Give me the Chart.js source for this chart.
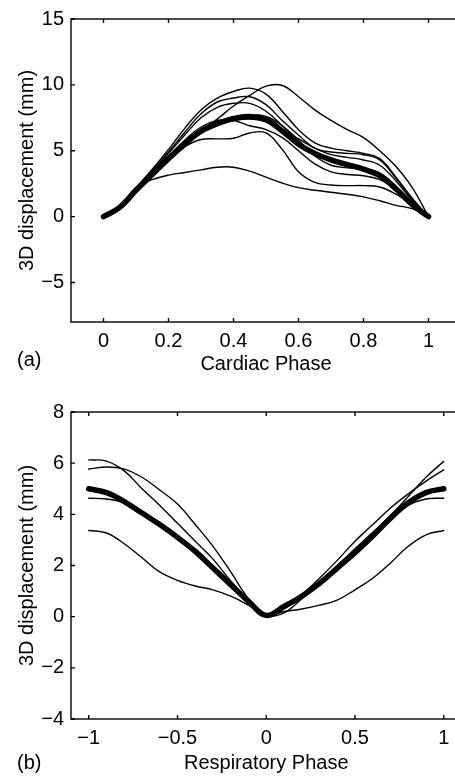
<!DOCTYPE html>
<html>
<head>
<meta charset="utf-8">
<script src="https://cdn.jsdelivr.net/npm/chart.js@4.4.1/dist/chart.umd.min.js"></script>
<style>
  html, body { margin: 0; padding: 0; background: #fff; overflow: hidden; }
  body { width: 455px; height: 777px; position: relative; }
  .panel { position: absolute; left: 0; width: 470px; }
  #panel-a { top: 0; height: 380px; }
  #panel-b { top: 380px; height: 397px; }
  .tag { position: absolute; left: 17px; font: 20px "Liberation Sans", Arial, sans-serif; line-height: 20px; color: #000; }
  #tag-a { top: 349px; }
  #tag-b { top: 752px; }
</style>
</head>
<body>
<div class="panel" id="panel-a"><canvas id="chart-a"></canvas></div>
<div class="panel" id="panel-b"><canvas id="chart-b"></canvas></div>
<div class="tag" id="tag-a">(a)</div>
<div class="tag" id="tag-b">(b)</div>
<script>
// (a) cardiac cycle
const cardiacPhase = [0, 0.05, 0.1, 0.15, 0.2, 0.25, 0.3, 0.35, 0.4, 0.45, 0.5, 0.55, 0.6, 0.65, 0.7, 0.75, 0.8, 0.85, 0.9, 0.95, 1];
const cardiacMean = [0, 0.7, 2.0, 3.2, 4.4, 5.5, 6.5, 7.05, 7.45, 7.6, 7.35, 6.5, 5.5, 4.8, 4.3, 3.95, 3.6, 3.1, 2.1, 0.9, 0];
const cardiac1 = [0, 0.7, 2.1, 3.3, 4.5, 5.5, 6.5, 7.4, 8.4, 9.2, 9.9, 9.95, 9.1, 8.1, 7.3, 6.6, 6.0, 5.0, 3.8, 2.2, 0];
const cardiac2 = [0, 0.8, 2.2, 3.6, 5.1, 6.7, 8.1, 9.0, 9.5, 9.75, 9.3, 8.0, 6.6, 5.6, 5.2, 5.0, 4.8, 4.4, 3.0, 1.4, 0];
const cardiac3 = [0, 0.8, 2.1, 3.5, 4.9, 6.4, 7.8, 8.7, 9.0, 9.1, 8.5, 7.3, 6.2, 5.2, 4.9, 4.8, 4.7, 4.3, 2.9, 1.3, 0];
const cardiac4 = [0, 0.7, 2.1, 3.4, 4.8, 6.2, 7.5, 8.3, 8.6, 8.6, 8.0, 6.9, 5.7, 4.8, 4.2, 3.9, 3.7, 3.3, 2.3, 1.0, 0];
const cardiac5 = [0, 0.7, 2.0, 3.3, 4.6, 5.8, 6.8, 7.3, 7.3, 6.9, 6.6, 6.0, 5.0, 4.0, 3.4, 3.2, 3.1, 2.8, 2.0, 0.9, 0];
const cardiac6 = [0, 0.7, 2.0, 3.2, 4.4, 5.3, 5.85, 5.9, 5.95, 6.35, 6.35, 5.1, 3.4, 2.6, 2.4, 2.35, 2.35, 2.25, 1.7, 0.9, 0];
const cardiac7 = [0, 0.8, 2.2, 2.8, 3.15, 3.35, 3.55, 3.75, 3.75, 3.45, 3.0, 2.55, 2.2, 2.0, 1.85, 1.7, 1.5, 1.2, 0.85, 0.6, 0];
const cardiac8 = [0, 0.7, 2.0, 3.2, 4.4, 5.6, 6.6, 7.1, 7.3, 7.4, 7.2, 6.6, 5.9, 5.2, 4.7, 4.5, 4.3, 3.9, 2.7, 1.2, 0];
const cardiac9 = [0, 0.7, 1.9, 3.1, 4.3, 5.4, 6.3, 6.9, 7.5, 7.7, 7.6, 6.9, 5.8, 4.6, 3.9, 3.7, 3.6, 3.3, 2.3, 1.0, 0];
const cardiacXTicks = [0, 0.2, 0.4, 0.6, 0.8, 1];
const cardiacYTicks = [-5, 0, 5, 10, 15];

// (b) respiratory cycle
const respPhase = [-1, -0.9, -0.8, -0.7, -0.6, -0.5, -0.4, -0.3, -0.2, -0.1, 0, 0.1, 0.2, 0.3, 0.4, 0.5, 0.6, 0.7, 0.8, 0.9, 1];
const respMean = [5.0, 4.85, 4.5, 4.05, 3.6, 3.1, 2.55, 1.9, 1.25, 0.6, 0.05, 0.4, 0.8, 1.3, 1.9, 2.5, 3.15, 3.85, 4.45, 4.85, 5.0];
const resp1 = [6.13, 6.08, 5.7, 5.0, 4.35, 3.65, 2.95, 2.25, 1.4, 0.65, 0.05, 0.15, 0.7, 1.3, 2.0, 2.65, 3.3, 3.95, 4.7, 5.45, 6.07];
const resp2 = [5.77, 5.85, 5.77, 5.45, 4.95, 4.4, 3.6, 2.75, 1.75, 0.7, 0.05, 0.3, 0.85, 1.5, 2.2, 2.95, 3.6, 4.25, 4.8, 5.3, 5.74];
const resp3 = [4.63, 4.6, 4.45, 4.05, 3.55, 3.05, 2.5, 1.9, 1.25, 0.6, 0.05, 0.35, 0.75, 1.25, 1.85, 2.45, 3.1, 3.8, 4.35, 4.6, 4.63];
const resp4 = [3.37, 3.27, 2.85, 2.3, 1.75, 1.42, 1.2, 1.05, 0.8, 0.45, 0.05, 0.2, 0.3, 0.45, 0.65, 1.05, 1.5, 2.1, 2.75, 3.2, 3.37];
const respXTicks = [-1, -0.5, 0, 0.5, 1];
const respYTicks = [-4, -2, 0, 2, 4, 6, 8];

const FONT = { family: '"Liberation Sans", Arial, Helvetica, sans-serif', size: 20 };

function lineSet(xs, ys, width) {
    return {
        data: xs.map((x, i) => ({ x: x, y: ys[i] })),
        borderColor: '#000',
        borderWidth: width,
        borderCapStyle: 'round',
        borderJoinStyle: 'round',
        pointRadius: 0,
        fill: false,
        tension: 0.4
    };
}

const fmt = v => String(v).replace('-', '\u2212');

// MATLAB style box with inward ticks on all four sides
const matlabBox = {
    id: 'matlabBox',
    afterDraw(chart) {
        const { ctx, chartArea: a, scales } = chart;
        const len = 4;
        ctx.save();
        ctx.strokeStyle = '#000';
        ctx.lineWidth = 1.4;
        ctx.strokeRect(a.left, a.top, a.right - a.left, a.bottom - a.top);
        ctx.beginPath();
        scales.x.ticks.forEach(t => {
            const px = scales.x.getPixelForValue(t.value);
            ctx.moveTo(px, a.bottom); ctx.lineTo(px, a.bottom - len);
            ctx.moveTo(px, a.top); ctx.lineTo(px, a.top + len);
        });
        scales.y.ticks.forEach(t => {
            const py = scales.y.getPixelForValue(t.value);
            ctx.moveTo(a.left, py); ctx.lineTo(a.left + len, py);
            ctx.moveTo(a.right, py); ctx.lineTo(a.right - len, py);
        });
        ctx.stroke();
        ctx.restore();
    }
};

function makeChart(id, datasets, cfg) {
    new Chart(document.getElementById(id), {
        type: 'line',
        data: { datasets: datasets },
        plugins: [matlabBox],
        options: {
            responsive: true,
            maintainAspectRatio: false,
            animation: false,
            layout: { padding: cfg.padding },
            plugins: { legend: { display: false }, tooltip: { enabled: false } },
            scales: {
                x: {
                    type: 'linear',
                    min: cfg.xMin,
                    max: cfg.xMax,
                    afterBuildTicks: s => { s.ticks = cfg.xTicks.map(v => ({ value: v })); },
                    afterFit: s => { s.height = 58; },
                    grid: { display: false, drawTicks: false },
                    border: { display: false },
                    ticks: { color: '#000', font: FONT, padding: 7, autoSkip: false, maxRotation: 0, callback: fmt },
                    title: { display: true, text: cfg.xTitle, color: '#000', font: FONT, padding: { top: 0, bottom: cfg.titlePad } }
                },
                y: {
                    min: cfg.yMin,
                    max: cfg.yMax,
                    afterBuildTicks: s => { s.ticks = cfg.yTicks.map(v => ({ value: v })); },
                    afterFit: s => { s.width = 71; },
                    grid: { display: false, drawTicks: false },
                    border: { display: false },
                    ticks: { color: '#000', font: FONT, padding: 7, autoSkip: false, callback: fmt },
                    title: { display: true, text: '3D displacement (mm)', color: '#000', font: FONT, padding: { top: 15, bottom: 0 } }
                }
            }
        }
    });
}

makeChart('chart-a', [
    lineSet(cardiacPhase, cardiacMean, 5.5),
    ...[cardiac1, cardiac2, cardiac3, cardiac4, cardiac5, cardiac6, cardiac7, cardiac8, cardiac9]
        .map(c => lineSet(cardiacPhase, c, 1.4))
], {
    xMin: -0.1, xMax: 1.1, xTicks: cardiacXTicks, xTitle: 'Cardiac Phase',
    yMin: -8, yMax: 15, yTicks: cardiacYTicks,
    padding: { left: 0, top: 15, right: 9, bottom: 0 }, titlePad: 4
});

makeChart('chart-b', [
    lineSet(respPhase, respMean, 5.5),
    ...[resp1, resp2, resp3, resp4].map(c => lineSet(respPhase, c, 1.4))
], {
    xMin: -1.1, xMax: 1.1, xTicks: respXTicks, xTitle: 'Respiratory Phase',
    yMin: -4, yMax: 8, yTicks: respYTicks,
    padding: { left: 0, top: 32, right: 8.5, bottom: 0 }, titlePad: 2
});
</script>
</body>
</html>
